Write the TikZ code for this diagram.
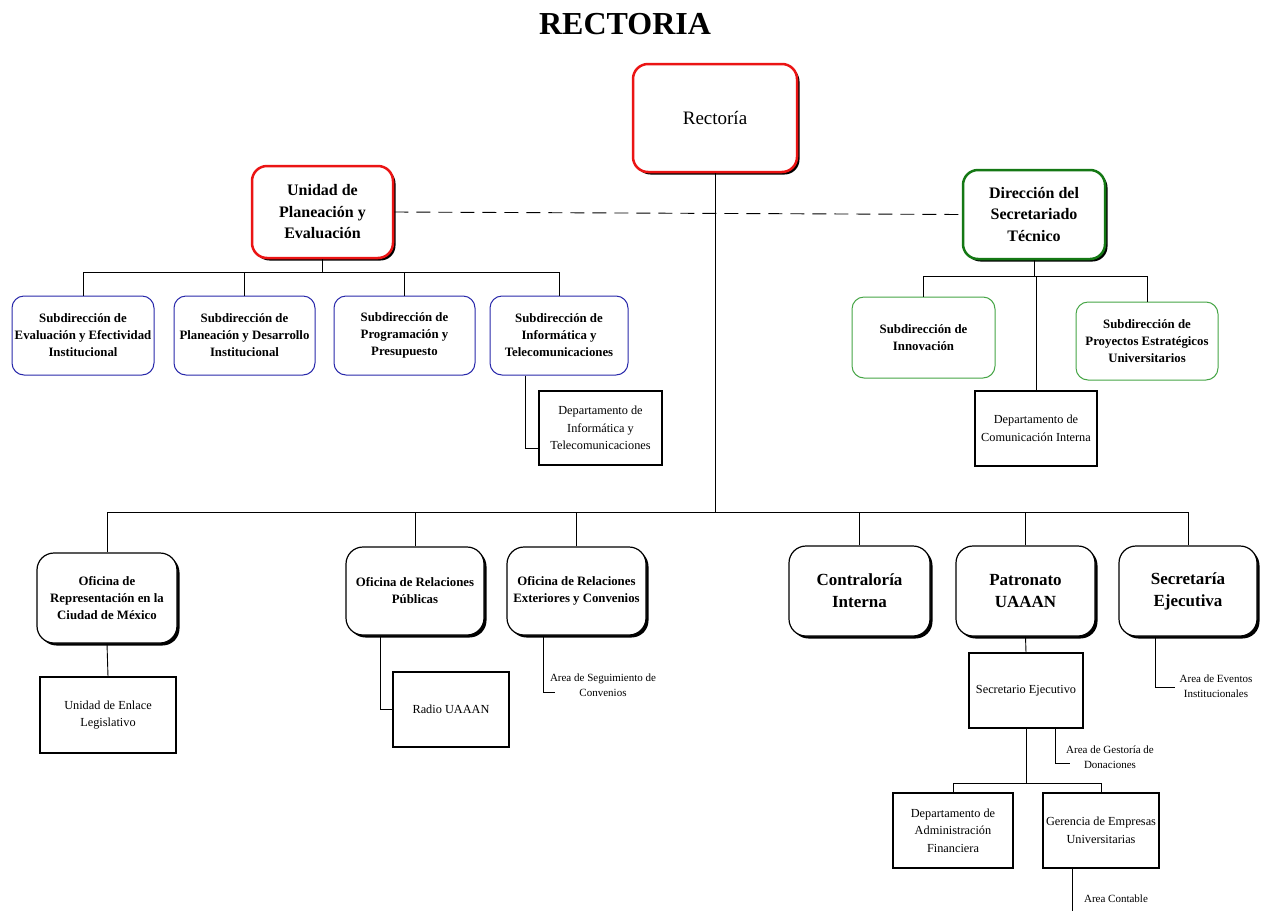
\documentclass[tikz,border=0pt]{standalone}
\usepackage{fontspec}
\setmainfont{Liberation Serif}
\usetikzlibrary{shadows}
\definecolor{cred}{RGB}{235,20,20}
\definecolor{cgreen}{RGB}{20,120,20}
\definecolor{lgreen}{RGB}{70,165,70}
\definecolor{cblue}{RGB}{40,40,170}
\begin{document}
\begin{tikzpicture}[x=1pt,y=-1pt,
  base/.style={align=center, inner sep=0pt, anchor=center},
  shad/.style={drop shadow={shadow xshift=2.5pt,shadow yshift=-2.5pt,fill=black,opacity=1}},
  topbox/.style={base, shad, rounded corners=15pt, line width=2.5pt, fill=white, font=\bfseries\fontsize{16}{21.5}\selectfont},
  subbox/.style={base, rounded corners=12pt, line width=1pt, fill=white, font=\bfseries\fontsize{12.8}{17}\selectfont},
  botbox/.style={base, shad, rounded corners=17pt, draw=black, line width=1.2pt, fill=white, font=\bfseries\fontsize{12.8}{17}\selectfont},
  bigbot/.style={botbox, font=\bfseries\fontsize{17}{22}\selectfont},
  deptbox/.style={base, draw=black, line width=1.1pt, fill=white, font=\fontsize{12.3}{17.5}\selectfont},
  lbl/.style={base, font=\fontsize{11}{15}\selectfont},
  conn/.style={line width=0.9pt, black}
]
\useasboundingbox[fill=white] (0,0) rectangle (1272,911);

\node[base, font=\bfseries\fontsize{32}{33}\selectfont] (title) at (625,24) {RECTORIA};

% top level
\node[topbox, draw=cred, minimum width=164pt, minimum height=108pt, font=\fontsize{19}{22}\selectfont] (rector) at (715,118) {Rectoría};
\node[topbox, draw=cred, minimum width=141pt, minimum height=92pt] (unidad) at (322.5,212) {Unidad de\\Planeación y\\Evaluación};
\node[topbox, draw=cgreen, minimum width=142pt, minimum height=89pt] (direc) at (1034,214.5) {Dirección del\\Secretariado\\Técnico};

% blue sub boxes
\node[subbox, draw=cblue, minimum width=142pt, minimum height=79pt] (sub1) at (83,335.5) {Subdirección de\\Evaluación y Efectividad\\Institucional};
\node[subbox, draw=cblue, minimum width=141pt, minimum height=79pt] (sub2) at (244.5,335.5) {Subdirección de\\Planeación y Desarrollo\\Institucional};
\node[subbox, draw=cblue, minimum width=141pt, minimum height=79pt] (sub3) at (404.5,335.5) {Subdirección de\\Programación y\\Presupuesto};
\node[subbox, draw=cblue, minimum width=138pt, minimum height=79pt] (sub4) at (559,335.5) {Subdirección de\\Informática y\\Telecomunicaciones};
\node[deptbox, minimum width=123pt, minimum height=74pt] (deptinf) at (600.5,428) {Departamento de\\Informática y\\Telecomunicaciones};

% green sub boxes
\node[subbox, draw=lgreen, minimum width=143pt, minimum height=81pt] (innov) at (923.5,337.5) {Subdirección de\\Innovación};
\node[subbox, draw=lgreen, minimum width=142pt, minimum height=78pt] (proy) at (1147,341) {Subdirección de\\Proyectos Estratégicos\\Universitarios};
\node[deptbox, minimum width=122pt, minimum height=75pt] (deptcom) at (1036,428.5) {Departamento de\\Comunicación Interna};

% bottom row
\node[botbox, minimum width=140pt, minimum height=90pt] (ofrep) at (107,598) {Oficina de\\Representación en la\\Ciudad de México};
\node[botbox, minimum width=138pt, minimum height=88pt] (ofrp) at (415,591) {Oficina de Relaciones\\Públicas};
\node[botbox, minimum width=139pt, minimum height=88pt] (ofre) at (576.5,591) {Oficina de Relaciones\\Exteriores y Convenios};
\node[bigbot, minimum width=141pt, minimum height=90pt] (contra) at (859.5,591) {Contraloría\\Interna};
\node[bigbot, minimum width=139pt, minimum height=90pt] (patro) at (1025.5,591) {Patronato\\UAAAN};
\node[bigbot, minimum width=138pt, minimum height=90pt] (secej) at (1188,591) {Secretaría\\Ejecutiva};

% lower boxes
\node[deptbox, minimum width=136pt, minimum height=76pt] (enlace) at (108,715) {Unidad de Enlace\\Legislativo};
\node[deptbox, minimum width=116pt, minimum height=75pt] (radio) at (451,709.5) {Radio UAAAN};
\node[deptbox, minimum width=114pt, minimum height=75pt] (secret) at (1026,690.5) {Secretario Ejecutivo};
\node[deptbox, minimum width=120pt, minimum height=75pt] (admfin) at (953,830.5) {Departamento de\\Administración\\Financiera};
\node[deptbox, minimum width=116pt, minimum height=75pt] (geren) at (1101,830.5) {Gerencia de Empresas\\Universitarias};

% free labels
\node[lbl] (areaseg) at (603,685) {Area de Seguimiento de\\Convenios};
\node[lbl] (areaev) at (1216,686) {Area de Eventos\\Institucionales};
\node[lbl] (areages) at (1110,757) {Area de Gestoría de\\Donaciones};
\node[lbl] (areacon) at (1116,899) {Area Contable};

% coordinates
\coordinate (busB) at (0,512);
\coordinate (busU) at (0,272);
\coordinate (busD) at (0,276);
\coordinate (busS) at (0,783);
\coordinate (segEnd) at (555,692);
\coordinate (evEnd) at (1175,687);
\coordinate (gesEnd) at (1070,763);
\coordinate (conEnd) at (1072,911);

% connectors: rectoria
\draw[conn] (rector.south) -- (rector.south |- busB);
\draw[conn] (ofrep.north |- busB) -- (secej.north |- busB);
\foreach \n in {ofrep,ofrp,ofre,contra,patro,secej}
  \draw[conn] (\n.north) -- (\n.north |- busB);

% dashed staff line
\draw[conn, dash pattern=on 14pt off 8pt] (unidad.east) -- (direc.west);

% unidad
\draw[conn] (unidad.south) -- (unidad.south |- busU);
\draw[conn] (sub1.north |- busU) -- (sub4.north |- busU);
\foreach \n in {sub1,sub2,sub3,sub4}
  \draw[conn] (\n.north) -- (\n.north |- busU);
\draw[conn] ([xshift=-34pt]sub4.south) |- ([yshift=-20pt]deptinf.west);

% direccion
\draw[conn] (direc.south) -- (direc.south |- busD);
\draw[conn] (innov.north |- busD) -- (proy.north |- busD);
\draw[conn] (innov.north) -- (innov.north |- busD);
\draw[conn] (proy.north) -- (proy.north |- busD);
\draw[conn] (deptcom.north) -- (deptcom.north |- busD);

% bottom branches
\draw[conn] (ofrep.south) -- (enlace.north);
\draw[conn] ([xshift=-35pt]ofrp.south) |- (radio.west);
\draw[conn] ([xshift=-33.5pt]ofre.south) |- (segEnd);
\draw[conn] (patro.south) -- (secret.north);
\draw[conn] ([xshift=-33pt]secej.south) |- (evEnd);
\draw[conn] (secret.south) -- (secret.south |- busS);
\draw[conn] ([xshift=29pt]secret.south) |- (gesEnd);
\draw[conn] (admfin.north |- busS) -- (geren.north |- busS);
\draw[conn] (admfin.north) -- (admfin.north |- busS);
\draw[conn] (geren.north) -- (geren.north |- busS);
\draw[conn] ([xshift=-29pt]geren.south) -- (conEnd);
\end{tikzpicture}
\end{document}
